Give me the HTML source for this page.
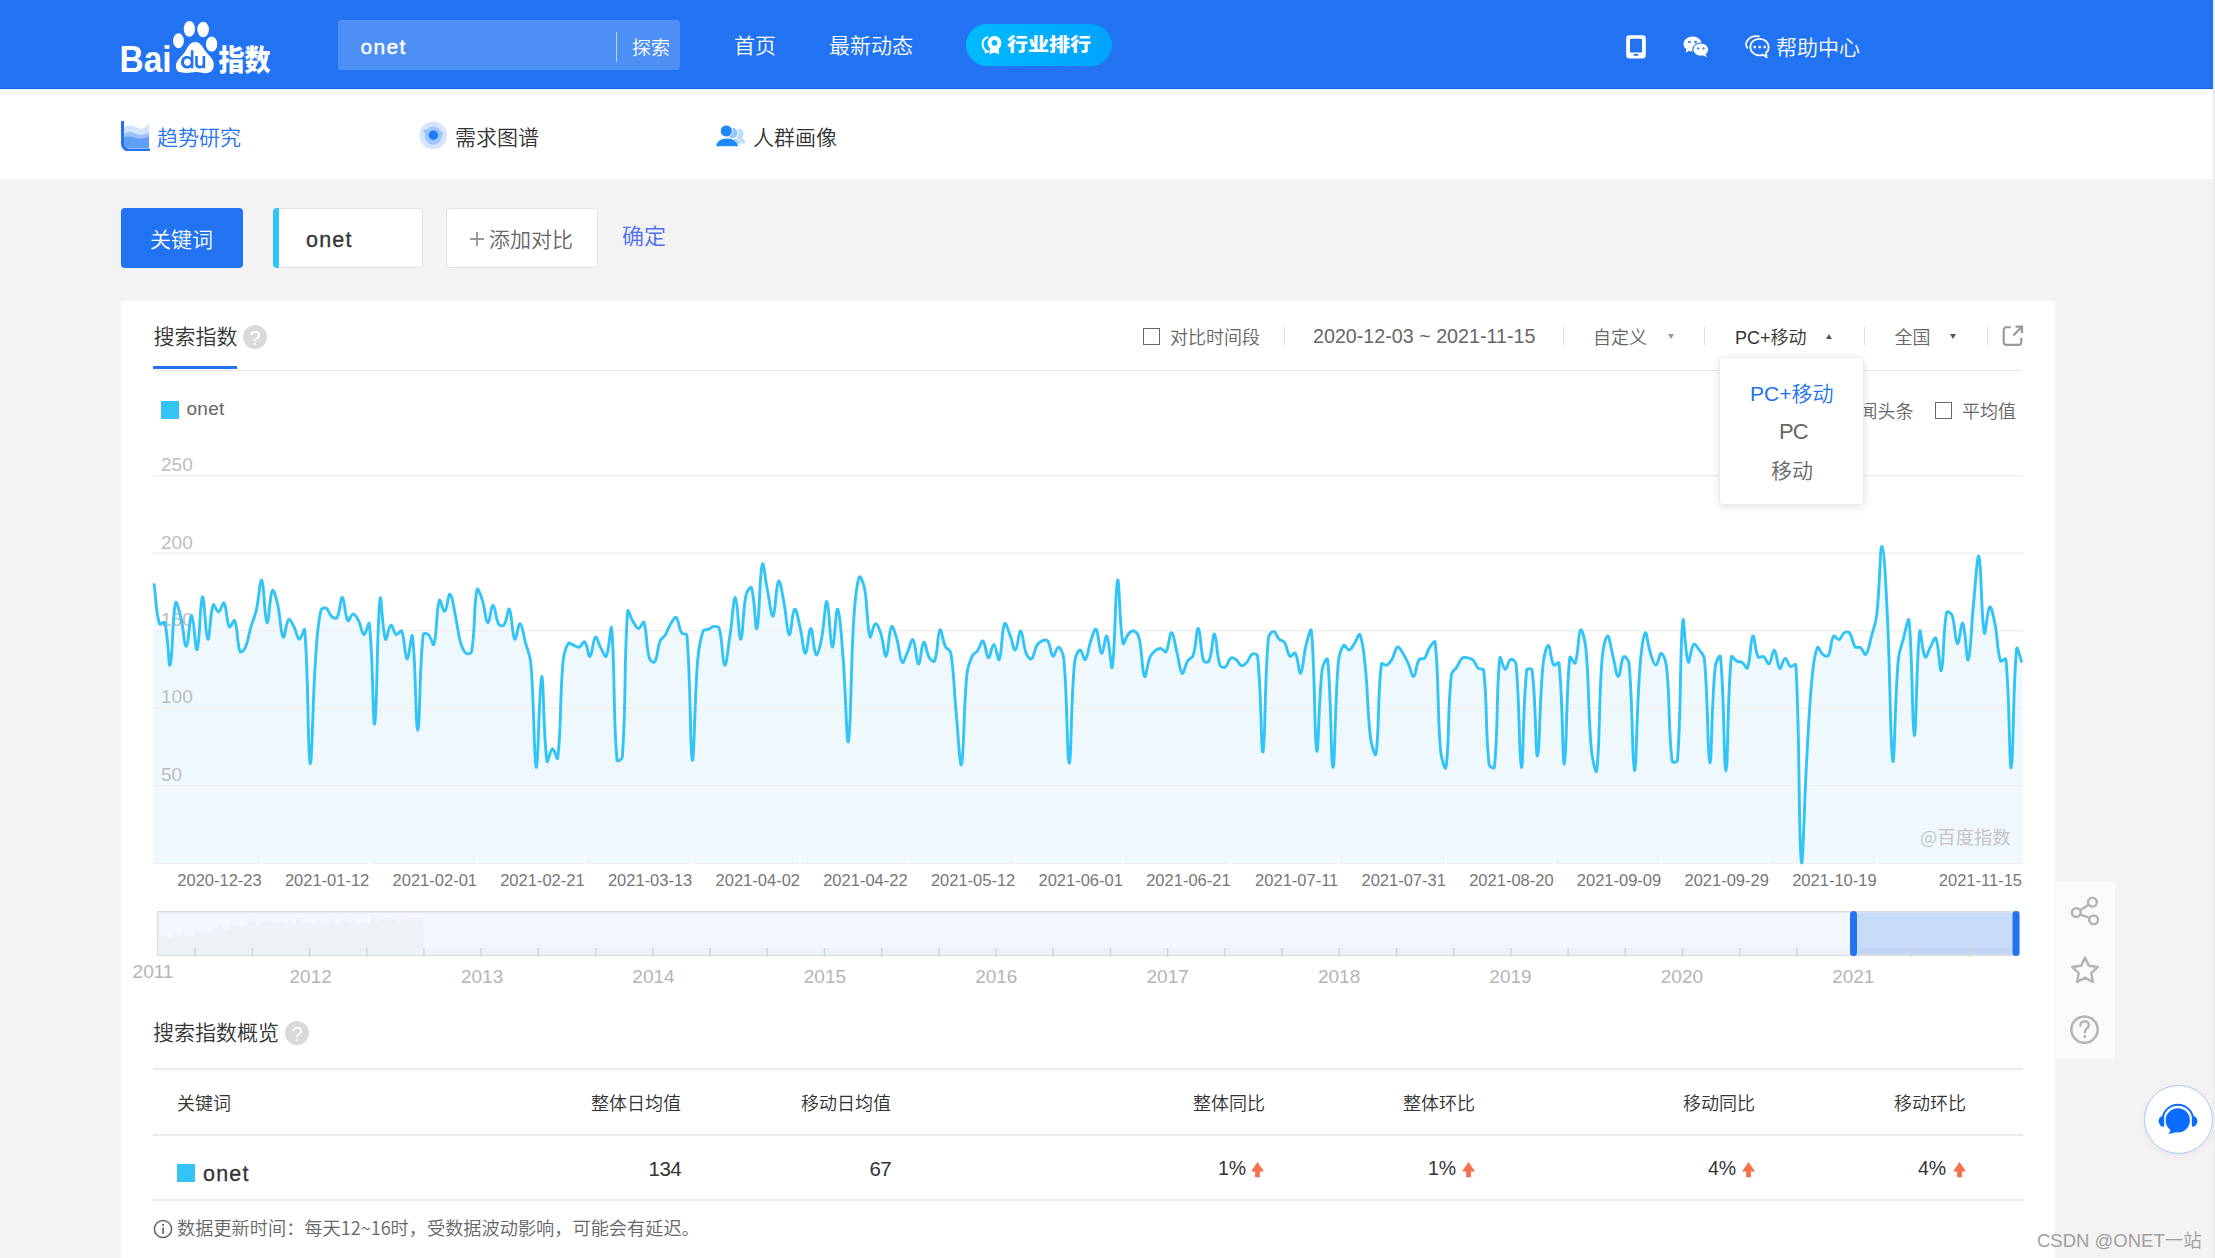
<!DOCTYPE html>
<html lang="zh-CN">
<head>
<meta charset="utf-8">
<title>百度指数 - onet</title>
<style>
*{margin:0;padding:0;box-sizing:border-box}
html,body{width:2215px;height:1258px;overflow:hidden;background:#f3f3f3;font-family:"Liberation Sans","Noto Sans CJK SC",sans-serif;color:#333}
.abs{position:absolute}
.cn{font-family:"Noto Sans CJK SC","Liberation Sans",sans-serif}
#edge{position:absolute;left:2213px;top:0;width:2px;height:1258px;background:#ececec}
#hdr{position:absolute;left:0;top:0;width:2213px;height:89px;background:#2173f2}
#sub{position:absolute;left:0;top:89px;width:2213px;height:90px;background:#fff}
.t{position:absolute;white-space:nowrap;line-height:1;font-weight:350}
</style>
</head>
<body>
<div id="hdr">
  <!-- logo -->
  <svg class="abs" style="left:0;top:0" width="300" height="89" viewBox="0 0 300 89">
    <g fill="#fff">
      <text x="119.5" y="72.2" font-family="Liberation Sans" font-weight="700" font-size="37" textLength="52" lengthAdjust="spacingAndGlyphs">Bai</text>
      <ellipse cx="178.5" cy="40.7" rx="5.4" ry="7.5"/>
      <ellipse cx="189.4" cy="28.9" rx="5.6" ry="7.9"/>
      <ellipse cx="203.1" cy="29.5" rx="5.8" ry="7.8"/>
      <ellipse cx="211.6" cy="44.1" rx="5.7" ry="7.5"/>
      <path d="M178 71.5c-3.2-3.4-2.4-8.6 0.6-12.2c2.6-3.2 5.6-5.4 8-10.2c1.8-3.6 4.4-7 8.6-7c4.4 0 6.6 3.6 8.8 7.2c2.6 4.2 6.4 6.6 8.6 10.6c2.2 4 1.4 10.4-3 12.4c-4 1.8-8.6 0.2-12.6-0.2c-4.6-0.4-8.6 1.4-13 0.6c-2.4-0.4-4.2-0.6-6-1.2z"/>
      <text x="218.5" y="70.5" font-family="Noto Sans CJK SC" font-weight="900" font-size="29" textLength="52" lengthAdjust="spacingAndGlyphs">指数</text>
    </g>
    <g fill="#2173f2">
      <path d="M190.8 50.2h2.6v18h-2.6v-1.2c-1 1-2.3 1.5-3.9 1.5c-3.4 0-5.9-2.7-5.9-6.3s2.5-6.3 5.9-6.3c1.6 0 2.9 0.5 3.9 1.5z M187.4 58.6c-1.9 0-3.4 1.6-3.4 3.6s1.5 3.6 3.4 3.6s3.4-1.6 3.4-3.6s-1.5-3.6-3.4-3.6z" fill-rule="evenodd"/>
      <path d="M195.2 56h2.6v7.2c0 1.8 0.9 2.6 2.4 2.6s2.4-0.8 2.4-2.6V56h2.6v12.2h-2.6v-1c-0.7 0.8-1.7 1.2-3 1.2c-2.7 0-4.4-1.6-4.4-4.5z"/>
    </g>
  </svg>
  <!-- search -->
  <div class="abs" style="left:338px;top:20px;width:342px;height:50px;border-radius:3px;background:#4d8ff5"></div>
  <div class="t" style="left:360.5px;top:35.8px;font-size:21px;color:#fff;letter-spacing:1.3px;-webkit-text-stroke:.45px #fff">onet</div>
  <div class="abs" style="left:616px;top:32px;width:1px;height:30px;background:rgba(255,255,255,.6)"></div>
  <div class="t cn" style="left:632px;top:37px;font-size:19px;color:#fff">探索</div>
  <!-- nav -->
  <div class="t cn" style="left:734px;top:34px;font-size:21px;color:#fff">首页</div>
  <div class="t cn" style="left:829px;top:34px;font-size:21px;color:#fff">最新动态</div>
  <div class="abs" style="left:966px;top:24px;width:146px;height:42px;border-radius:21px;background:linear-gradient(90deg,#00bbff,#00a2ff)"></div>
  <svg class="abs" style="left:980px;top:34px" width="24" height="22" viewBox="0 0 24 22">
    <path d="M7.4 3.2C4.4 4.6 2.4 7.6 2.6 10.8C2.8 13.4 4.2 15.4 6 16.6L5.6 18.2L8.6 17.4" fill="none" stroke="#fff" stroke-width="2" stroke-linecap="round" stroke-linejoin="round"/>
    <path d="M10 13.5L9.6 20.2L14.4 18.4L19.2 20.2L18.8 13.5Z" fill="#fff"/>
    <circle cx="14.5" cy="9" r="6.9" fill="#fff"/>
    <circle cx="14.5" cy="8.8" r="2.9" fill="#03b4ff"/>
  </svg>
  <div class="t cn" style="left:1007px;top:33px;font-size:21px;color:#fff;font-weight:900;transform:scaleY(.86);transform-origin:0 50%">行业排行</div>
  <!-- right icons -->
  <svg class="abs" style="left:1625px;top:34px" width="22" height="26" viewBox="0 0 22 26">
    <rect x="1.2" y="1.2" width="19.6" height="23.2" rx="3.2" fill="#fff"/>
    <rect x="5" y="4.8" width="12" height="13.8" rx="1.2" fill="#2173f2"/>
    <rect x="8.6" y="20" width="4.8" height="1.8" rx="0.6" fill="#2173f2"/>
  </svg>
  <svg class="abs" style="left:1683px;top:36px" width="27" height="22" viewBox="0 0 27 22">
    <ellipse cx="9.6" cy="8" rx="9.2" ry="7.6" fill="#fff"/>
    <path d="M3.6 13.2l-1 3.6l4-2.2z" fill="#fff"/>
    <ellipse cx="17.8" cy="13.6" rx="8.6" ry="7" fill="#2173f2"/>
    <ellipse cx="17.8" cy="13.6" rx="7.4" ry="6.2" fill="#fff"/>
    <path d="M22.6 18.2l1.6 3l-4.2-1.8z" fill="#fff"/>
    <circle cx="6.4" cy="6" r="1.3" fill="#2173f2"/><circle cx="12.6" cy="6" r="1.3" fill="#2173f2"/>
    <circle cx="15.2" cy="12.4" r="1.1" fill="#2173f2"/><circle cx="20.6" cy="12.4" r="1.1" fill="#2173f2"/>
  </svg>
  <svg class="abs" style="left:1740px;top:28px" width="36" height="36" viewBox="0 0 36 36">
    <path d="M18.9 8.4C14 7.6 9.6 9.4 7.4 12.6C5.6 15.2 5.8 18 7.4 19.8" fill="none" stroke="#fff" stroke-width="1.8" stroke-linecap="round"/>
    <path d="M23 26.6C21.8 27.2 20.6 27.4 19.5 27.4C14.2 27.4 10.3 23.6 10.3 18.9S14.2 10.8 19.5 10.8S28.7 14.6 28.7 18.9C28.7 21.6 27.6 23.4 26 25L26.6 29.4Z" fill="none" stroke="#fff" stroke-width="1.8" stroke-linejoin="round"/>
    <circle cx="14.7" cy="19.1" r="1.35" fill="#fff"/><circle cx="19.7" cy="19.1" r="1.35" fill="#fff"/><circle cx="24.7" cy="19.1" r="1.35" fill="#fff"/>
  </svg>
  <div class="t cn" style="left:1776px;top:36px;font-size:21px;color:#fff">帮助中心</div>
</div>

<div class="abs" style="left:0;top:88px;width:2213px;height:1px;background:#1666ea"></div><div class="abs" style="left:0;top:89px;width:2213px;height:1px;background:#f0f5fe;z-index:2"></div>
<div id="sub">
  <svg class="abs" style="left:121px;top:32px" width="30" height="30" viewBox="0 0 30 30">
    <path d="M3 6c3-2 8-2 13 0.6s9 1 12-5V27H3z" fill="#d1e2fb"/>
    <path d="M3 13c3-2.6 7-2.6 11-0.6s9 1.6 14-1V27H3z" fill="#9cc2f8"/>
    <path d="M3 17c3-2 7-1.8 10.4-0.4s8.4 1.6 14.6-1.2V27H3z" fill="#5e9ef5"/>
    <path d="M1.5 0v22.5c0 3.5 2.5 6.5 6.5 6.5h21" fill="none" stroke="#2173f2" stroke-width="3"/>
  </svg>
  <div class="t cn" style="left:157px;top:36.5px;font-size:21px;color:#2173f2">趋势研究</div>
  <svg class="abs" style="left:419px;top:32px" width="28" height="28" viewBox="0 0 28 28">
    <circle cx="14.3" cy="14.3" r="13.9" fill="#d4e5fd"/>
    <ellipse cx="14.3" cy="14.6" rx="8.7" ry="9.1" fill="#9fc5fa"/>
    <path d="M3.6 9.8L8.6 8.2L7.4 12.6Z" fill="#8cbcf8"/>
    <path d="M21.6 11.2L24.4 11.9L22.4 14.6Z" fill="#8cbcf8"/>
    <circle cx="14.4" cy="14.3" r="4.7" fill="#1f7af4"/>
  </svg>
  <div class="t cn" style="left:455px;top:36.5px;font-size:21px;color:#333">需求图谱</div>
  <svg class="abs" style="left:712px;top:31px" width="38" height="30" viewBox="0 0 38 30">
    <circle cx="26.7" cy="13.8" r="5" fill="#bddcfd"/>
    <path d="M21.5 23.3C22 19.5 24.5 17.6 27.4 17.6C30.5 17.6 32.8 19.8 33.4 22.4C33.5 23 33 23.3 32.4 23.3Z" fill="#bddcfd"/>
    <path d="M14 25C15 20 17.5 17.5 21.5 17.5C25 17.5 27.6 20.5 28.2 23.6C28.3 24.4 27.8 25 27 25Z" fill="#93c5fa" stroke="#fff" stroke-width="1.1"/>
    <circle cx="20.3" cy="13" r="5.8" fill="#93c5fa" stroke="#fff" stroke-width="1.1"/>
    <circle cx="14.3" cy="11" r="6.1" fill="#1f88f6" stroke="#fff" stroke-width="1"/>
    <path d="M4 25.3C5 21 9 18 15 18C21 18 25 21 26.3 25.3C26.6 26.4 26 26.8 25 26.8H5.3C4.3 26.8 3.7 26.3 4 25.3Z" fill="#1f88f6" stroke="#fff" stroke-width="1"/>
  </svg>
  <div class="t cn" style="left:753px;top:36.5px;font-size:21px;color:#333">人群画像</div>
</div>

<!-- keyword row -->
<div class="abs" style="left:121px;top:208px;width:122px;height:60px;border-radius:4px;background:#2173f2"></div>
<div class="t cn" style="left:150px;top:228px;font-size:21px;color:#fff">关键词</div>
<div class="abs" style="left:273px;top:208px;width:149.5px;height:60px;border-radius:4px;background:#fff;border:1px solid #e3e3e3;border-left:0"></div>
<div class="abs" style="left:273px;top:208px;width:6px;height:60px;border-radius:4px 0 0 4px;background:#33c4f7"></div>
<div class="t" style="left:306px;top:229.5px;font-size:21.5px;color:#333;letter-spacing:1.2px;-webkit-text-stroke:.3px #333">onet</div>
<div class="abs" style="left:446px;top:208px;width:152px;height:60px;border-radius:4px;background:#fff;border:1px solid #e3e3e3"></div>
<div class="abs" style="left:470px;top:238px;width:14px;height:2px;background:#9a9a9a"></div><div class="abs" style="left:476px;top:232px;width:2px;height:14px;background:#9a9a9a"></div><div class="t cn" style="left:489px;top:228px;font-size:21px;color:#666">添加对比</div>
<div class="t cn" style="left:622px;top:223px;font-size:22px;color:#4e6ef2">确定</div>

<!-- main card -->
<div class="abs" style="left:121px;top:301px;width:1934px;height:960px;background:#fff"></div>
<div class="t cn" style="left:153.5px;top:325px;font-size:21px;color:#333">搜索指数</div>
<div class="abs" style="left:243px;top:325px;width:24px;height:24px;border-radius:50%;background:#d9d9d9;color:#fff;font:normal 20px/26px 'Liberation Sans',sans-serif;text-align:center">?</div>
<div class="abs" style="left:153px;top:370px;width:1869px;height:1px;background:#e8e8e8"></div>
<div class="abs" style="left:153px;top:366px;width:84px;height:3px;background:#2173f2"></div>

<!-- toolbar -->
<div class="abs" style="left:1143px;top:328px;width:17px;height:17px;border:1px solid #666;background:#fff"></div>
<div class="t cn" style="left:1170px;top:327px;font-size:18px;color:#666">对比时间段</div>
<div class="abs" style="left:1283.5px;top:327px;width:1px;height:18px;background:#ddd"></div>
<div class="t" style="left:1313px;top:327px;font-size:19.7px;color:#666">2020-12-03 ~ 2021-11-15</div>
<div class="abs" style="left:1563px;top:327px;width:1px;height:18px;background:#ddd"></div>
<div class="t cn" style="left:1593px;top:327px;font-size:18px;color:#666">自定义</div>
<div class="abs" style="left:1667.5px;top:333.8px;width:0;height:0;border-left:3.5px solid transparent;border-right:3.5px solid transparent;border-top:5.6px solid #9a9a9a"></div>
<div class="abs" style="left:1704px;top:327px;width:1px;height:18px;background:#ddd"></div>
<div class="t" style="left:1735px;top:328.5px;font-size:18px;color:#333">PC+移动</div>
<div class="abs" style="left:1826.1px;top:333.59999999999997px;width:0;height:0;border-left:3.5px solid transparent;border-right:3.5px solid transparent;border-bottom:5.6px solid #555"></div>
<div class="abs" style="left:1863.5px;top:327px;width:1px;height:18px;background:#ddd"></div>
<div class="t cn" style="left:1894.5px;top:327px;font-size:18px;color:#666">全国</div>
<div class="abs" style="left:1950.0px;top:333.59999999999997px;width:0;height:0;border-left:3.5px solid transparent;border-right:3.5px solid transparent;border-top:5.6px solid #555"></div>
<div class="abs" style="left:1987px;top:327px;width:1px;height:18px;background:#ddd"></div>
<svg class="abs" style="left:2000px;top:323px" width="26" height="26" viewBox="-0.5 -0.5 27.5 27.5">
  <path d="M11 4H6.5C4.5 4 3.4 5.1 3.4 7.1v12.4c0 2 1.1 3.1 3.1 3.1h12.4c2 0 3.1-1.1 3.1-3.1V15" fill="none" stroke="#999" stroke-width="2.3"/>
  <path d="M13.6 12.6L22.4 3.8M16 3.4h6.8v6.8" fill="none" stroke="#999" stroke-width="2.3"/>
</svg>

<!-- legend row -->
<div class="abs" style="left:161px;top:401px;width:18px;height:18px;background:#33c4f7"></div>
<div class="t" style="left:186.5px;top:398.6px;font-size:19px;color:#666;letter-spacing:.3px">onet</div>
<div class="abs" style="left:1815px;top:402px;width:17px;height:17px;border:1px solid #666;background:#fff"></div>
<div class="t cn" style="left:1841.5px;top:401px;font-size:18px;color:#666">新闻头条</div>
<div class="abs" style="left:1935px;top:402px;width:17px;height:17px;border:1px solid #666;background:#fff"></div>
<div class="t cn" style="left:1962px;top:401px;font-size:18px;color:#666">平均值</div>

<!-- chart -->
<svg class="abs" style="left:0;top:0" width="2215" height="1000" viewBox="0 0 2215 1000">
  <path d="M154.0 583.4C156.2 599.5 155.6 609.9 159.4 623.7C159.9 625.6 164.3 620.8 164.8 622.7C168.6 637.3 168.4 668.2 170.1 665.1C172.7 660.4 172.1 618.3 175.5 603.0C176.4 599.3 179.4 611.5 180.9 617.5C183.7 628.9 184.2 646.8 186.3 646.4C188.5 646.0 189.6 614.9 191.7 615.4C193.9 616.1 195.4 652.5 197.1 649.5C199.7 645.0 200.1 599.1 202.4 596.8C204.4 595.0 205.5 637.4 207.8 639.2C209.8 640.7 209.8 613.8 213.2 605.1C214.1 602.9 216.6 612.3 218.6 611.9C220.9 611.5 222.7 601.3 224.0 603.0C227.0 607.2 226.1 621.6 229.4 626.8C230.5 628.6 233.9 618.6 234.7 620.6C238.2 628.5 236.6 643.0 240.1 651.6C240.9 653.6 244.4 649.6 245.5 647.1C248.7 639.6 248.5 634.9 250.9 626.8C252.9 620.1 254.7 617.0 256.3 610.3C259.0 598.4 259.9 578.2 261.7 580.3C264.2 583.2 264.6 620.3 267.0 622.7C268.9 624.5 269.5 595.4 272.4 590.6C273.8 588.4 276.4 599.1 277.8 605.1C280.7 617.7 280.4 633.5 283.2 637.1C284.8 639.2 285.7 622.4 288.6 619.6C290.0 618.2 292.2 623.7 294.0 626.8C296.5 631.5 296.9 638.5 299.3 639.2C301.3 639.8 304.4 626.2 304.7 629.9C308.7 675.8 307.7 756.5 310.1 763.2C312.0 768.5 312.6 701.2 315.5 659.9C316.9 640.0 317.0 628.8 320.9 610.3C321.3 608.1 324.7 607.3 326.3 608.2C329.0 609.8 328.9 614.1 331.6 616.5C333.2 617.8 336.1 619.1 337.0 617.5C340.4 611.5 340.4 596.9 342.4 597.5C344.7 598.1 344.6 615.7 347.8 620.6C348.9 622.4 351.0 614.0 353.2 614.0C355.3 614.0 357.0 617.6 358.6 620.6C361.3 625.9 361.6 634.0 363.9 634.7C365.9 635.2 368.9 619.8 369.3 623.7C373.2 655.6 372.8 728.4 374.7 724.0C377.1 718.5 376.8 624.5 380.1 598.9C381.2 590.6 382.3 631.6 385.5 639.2C386.6 642.1 388.4 626.2 390.9 625.2C392.7 624.4 393.6 633.2 396.2 634.7C397.9 635.5 400.8 629.1 401.6 630.9C405.1 638.8 404.7 657.7 407.0 658.9C409.0 659.8 411.5 630.4 412.4 636.1C415.8 659.0 415.6 730.4 417.8 730.2C420.0 729.9 419.1 670.8 423.2 634.7C423.4 632.6 427.1 633.4 428.5 634.7C431.4 637.3 433.1 647.1 433.9 644.4C437.4 633.4 435.9 610.7 439.3 600.4C440.2 597.5 443.0 612.3 444.7 611.3C447.3 609.8 448.2 593.3 450.1 594.2C452.5 595.2 453.5 607.3 455.5 616.1C457.8 626.9 457.8 632.8 460.8 643.3C462.1 647.6 463.4 651.1 466.2 653.3C467.7 654.4 471.3 653.7 471.6 651.6C475.6 628.3 473.4 606.8 477.0 589.6C477.7 586.3 480.9 595.8 482.4 600.4C485.2 609.0 485.4 621.6 487.8 622.7C489.7 623.5 491.1 604.9 493.1 605.1C495.4 605.3 495.2 617.5 498.5 623.7C499.5 625.5 502.8 626.6 503.9 625.2C507.1 620.8 507.8 607.2 509.3 609.2C512.1 612.9 511.9 635.5 514.7 639.2C516.2 641.2 518.1 623.1 520.1 623.7C522.4 624.4 523.4 634.8 525.4 642.3C527.7 650.6 530.1 654.5 530.8 663.0C534.4 704.5 533.9 764.5 536.2 767.4C538.2 769.9 539.4 677.7 541.6 676.4C543.7 675.2 543.3 736.2 547.0 761.2C547.6 765.1 550.0 749.5 552.4 748.8C554.3 748.2 557.3 761.6 557.7 758.1C561.6 726.4 559.5 699.5 563.1 660.9C563.8 653.6 565.2 648.1 568.5 643.3C569.5 641.9 571.7 644.7 573.9 645.4C576.0 646.2 577.4 647.7 579.3 647.1C581.7 646.3 583.3 640.7 584.7 641.9C587.6 644.4 588.2 657.2 590.0 656.4C592.5 655.3 592.7 639.3 595.4 637.1C597.0 635.9 598.4 643.7 600.8 647.9C602.8 651.3 605.1 658.2 606.2 656.2C609.4 650.4 610.8 621.1 611.6 628.5C615.1 662.7 612.8 711.0 617.0 760.1C617.2 762.4 622.2 759.5 622.3 757.0C626.5 699.9 623.7 661.5 627.7 611.3C628.0 607.3 630.6 617.7 633.1 621.6C635.0 624.6 636.3 628.3 638.5 628.5C640.6 628.6 643.1 620.1 643.9 622.3C647.4 631.8 645.6 644.5 649.3 657.8C649.9 660.3 653.6 663.5 654.6 662.0C657.9 656.9 657.0 649.1 660.0 641.3C661.3 638.2 663.6 637.6 665.4 634.7C667.9 630.5 668.2 627.8 670.8 623.7C672.5 621.0 674.7 616.3 676.2 617.5C679.0 620.0 678.4 627.8 681.6 633.0C682.7 634.8 686.8 632.8 686.9 635.1C691.1 683.7 689.9 754.6 692.3 760.1C694.2 764.5 694.4 699.8 697.7 659.9C698.7 648.2 699.5 641.2 703.1 630.9C703.8 629.0 706.4 630.2 708.5 629.3C710.7 628.3 711.6 626.6 713.9 626.4C716.0 626.2 718.7 626.4 719.2 628.5C723.0 641.8 722.3 663.6 724.6 665.1C726.6 666.2 728.1 647.1 730.0 635.1C732.4 620.1 733.4 596.7 735.4 597.5C737.7 598.3 738.7 639.9 740.8 639.2C743.0 638.5 742.5 611.5 746.2 594.2C746.8 591.0 750.8 585.7 751.5 588.0C755.1 599.4 755.3 632.1 756.9 628.5C759.6 622.7 759.3 574.7 762.3 564.4C763.6 559.9 765.4 580.8 767.7 591.7C769.7 601.5 771.3 617.8 773.1 616.1C775.6 613.6 775.8 585.0 778.5 581.3C780.1 579.2 782.2 593.4 783.8 601.6C786.5 614.7 786.8 632.9 789.2 634.7C791.1 636.0 792.1 611.1 794.6 609.2C796.4 607.9 798.3 619.7 800.0 626.8C802.6 637.3 803.2 652.9 805.4 653.3C807.5 653.6 808.7 628.2 810.8 628.5C813.0 628.8 813.5 652.2 816.1 654.7C817.8 656.3 820.2 645.4 821.5 638.8C824.5 624.1 825.0 600.1 826.9 601.6C829.3 603.4 829.9 645.4 832.3 647.1C834.3 648.5 835.8 607.4 837.7 609.2C840.1 611.7 841.5 638.3 843.1 657.8C845.8 691.3 846.7 747.9 848.4 741.5C851.0 732.2 850.6 667.6 853.8 618.5C854.9 601.9 855.9 586.4 859.2 577.2C860.2 574.4 863.7 583.7 864.6 588.6C868.0 607.5 866.6 625.8 870.0 636.7C870.9 639.9 872.9 624.6 875.4 623.7C877.2 623.1 879.4 629.0 880.7 633.0C883.7 642.0 884.2 657.3 886.1 656.2C888.5 654.8 888.5 631.5 891.5 626.8C892.9 624.7 895.3 634.1 896.9 639.2C899.6 648.3 899.4 659.1 902.3 662.4C903.7 664.0 905.6 656.0 907.7 651.6C909.9 646.9 911.6 637.9 913.0 639.6C915.9 642.9 916.2 663.5 918.4 664.0C920.5 664.5 921.3 643.9 923.8 642.3C925.6 641.2 926.1 652.1 929.2 657.4C930.4 659.5 933.8 662.8 934.6 660.9C938.2 651.8 937.2 633.6 940.0 629.9C941.5 627.9 942.4 640.3 945.3 646.4C946.7 649.4 950.2 649.5 950.7 652.6C954.5 675.5 953.8 688.0 956.1 711.6C958.1 732.7 959.9 769.8 961.5 764.3C964.2 754.9 963.3 710.1 966.9 674.4C967.6 666.7 969.2 662.6 972.3 655.8C973.5 653.1 975.9 653.0 977.6 650.6C980.2 647.0 981.4 639.8 983.0 640.9C985.7 642.6 986.0 657.0 988.4 657.8C990.3 658.4 991.7 644.1 993.8 644.4C996.1 644.7 997.9 662.0 999.2 659.5C1002.2 653.7 1001.3 631.1 1004.6 623.7C1005.6 621.2 1008.1 630.2 1009.9 634.7C1012.4 640.7 1013.4 650.6 1015.3 650.0C1017.7 649.1 1018.7 630.3 1020.7 630.9C1023.0 631.7 1022.9 644.9 1026.1 653.3C1027.2 656.1 1030.0 659.9 1031.5 658.9C1034.3 656.8 1034.0 650.3 1036.9 645.4C1038.3 643.1 1039.8 641.9 1042.2 640.9C1044.1 640.1 1046.6 639.3 1047.6 640.9C1050.9 645.5 1050.4 654.7 1053.0 656.2C1054.7 657.1 1056.5 646.6 1058.4 647.1C1060.8 647.7 1063.3 653.7 1063.8 658.9C1067.6 700.2 1067.0 762.4 1069.2 763.2C1071.3 764.0 1070.8 702.7 1074.5 663.0C1075.1 657.4 1077.5 650.8 1079.9 650.0C1081.8 649.3 1083.8 660.8 1085.3 659.5C1088.1 657.1 1088.1 648.1 1090.7 640.9C1092.4 636.1 1094.6 627.6 1096.1 629.3C1098.9 632.6 1099.0 651.7 1101.5 653.3C1103.3 654.4 1105.3 634.1 1106.8 636.1C1109.6 639.6 1111.1 673.0 1112.2 667.1C1115.4 650.7 1115.1 585.8 1117.6 580.3C1119.4 576.3 1119.3 625.0 1123.0 643.3C1123.6 646.5 1125.6 637.2 1128.4 634.0C1130.0 632.2 1132.0 630.3 1133.8 630.9C1136.3 631.9 1138.3 634.7 1139.1 638.2C1142.6 652.9 1141.7 671.3 1144.5 676.4C1146.0 679.0 1146.9 664.6 1149.9 657.4C1151.2 654.2 1152.7 652.7 1155.3 650.6C1157.0 649.2 1158.6 648.3 1160.7 648.5C1162.9 648.7 1165.0 653.1 1166.1 651.6C1169.3 646.8 1169.3 632.6 1171.4 632.6C1173.6 632.6 1174.8 644.0 1176.8 651.6C1179.1 660.3 1179.5 671.0 1182.2 673.3C1183.8 674.7 1184.8 665.4 1187.6 660.9C1189.1 658.4 1192.1 658.5 1193.0 655.8C1196.4 645.5 1196.4 627.5 1198.4 628.5C1200.7 629.6 1200.0 649.8 1203.7 660.9C1204.3 662.7 1208.4 662.7 1209.1 660.9C1212.7 651.9 1212.5 633.3 1214.5 634.0C1216.8 634.9 1216.3 653.9 1219.9 665.1C1220.6 667.1 1223.7 668.1 1225.3 667.1C1228.0 665.4 1227.8 660.2 1230.7 658.2C1232.2 657.2 1234.3 658.3 1236.0 659.5C1238.6 661.3 1239.0 665.0 1241.4 665.7C1243.3 666.2 1245.1 664.2 1246.8 662.4C1249.4 659.5 1249.5 655.7 1252.2 654.1C1253.8 653.2 1257.3 653.9 1257.6 656.2C1261.6 693.1 1261.0 755.0 1263.0 751.9C1265.3 748.1 1264.4 683.4 1268.3 638.8C1268.7 635.2 1271.6 631.3 1273.7 631.4C1275.9 631.4 1276.5 636.6 1279.1 639.2C1280.8 640.9 1283.2 640.3 1284.5 642.3C1287.5 647.1 1286.8 653.1 1289.9 656.2C1291.1 657.4 1294.3 651.7 1295.3 653.3C1298.6 658.6 1298.8 674.6 1300.6 673.3C1303.1 671.5 1303.2 656.4 1306.0 645.4C1307.5 639.4 1310.9 626.1 1311.4 630.9C1315.2 668.3 1314.2 741.7 1316.8 750.8C1318.5 757.0 1318.4 701.4 1322.2 669.2C1322.7 664.8 1327.2 655.8 1327.6 659.5C1331.5 695.1 1330.8 766.7 1332.9 767.4C1335.1 768.1 1334.7 704.5 1338.3 663.0C1339.0 655.7 1340.6 649.2 1343.7 645.4C1344.9 644.0 1347.1 650.3 1349.1 650.0C1351.4 649.5 1352.5 646.1 1354.5 643.3C1356.8 640.0 1358.8 632.5 1359.9 634.7C1363.1 641.6 1363.9 653.4 1365.2 666.1C1368.2 694.9 1367.1 709.8 1370.6 738.4C1371.4 744.9 1375.3 758.5 1376.0 753.9C1379.6 728.8 1377.3 697.5 1381.4 664.0C1381.6 662.0 1385.0 665.9 1386.8 665.1C1389.4 663.8 1390.5 661.6 1392.2 658.9C1394.8 654.4 1394.9 648.4 1397.5 647.1C1399.2 646.2 1401.1 650.5 1402.9 653.3C1405.4 657.2 1406.3 659.4 1408.3 663.6C1410.6 668.6 1411.8 677.1 1413.7 676.4C1416.1 675.5 1415.8 665.0 1419.1 659.5C1420.1 657.7 1423.1 659.8 1424.5 658.2C1427.4 654.8 1427.1 651.1 1429.8 647.1C1431.4 644.7 1435.0 639.7 1435.2 642.3C1439.3 681.2 1436.9 707.7 1440.6 750.8C1441.2 757.7 1445.3 772.2 1446.0 767.4C1449.6 741.6 1447.4 710.9 1451.4 674.4C1451.8 670.8 1454.8 670.1 1456.8 667.1C1459.1 663.7 1459.3 660.7 1462.1 658.2C1463.6 657.0 1465.4 657.5 1467.5 657.8C1469.7 658.2 1471.3 658.4 1472.9 659.9C1475.6 662.5 1475.6 665.5 1478.3 668.2C1479.9 669.7 1483.4 668.0 1483.7 670.2C1487.7 706.4 1485.0 727.8 1489.1 764.3C1489.3 766.7 1494.2 769.6 1494.4 767.4C1498.5 727.1 1496.0 693.0 1499.8 657.8C1500.3 653.8 1502.9 668.8 1505.2 669.2C1507.2 669.5 1508.0 660.7 1510.6 659.5C1512.3 658.7 1515.7 661.3 1516.0 664.0C1520.0 704.4 1519.1 766.1 1521.4 767.4C1523.4 768.6 1522.7 707.0 1526.7 670.2C1527.0 668.2 1531.9 668.2 1532.1 670.2C1536.2 702.5 1535.4 756.8 1537.5 756.0C1539.7 755.2 1539.4 701.8 1542.9 666.1C1543.7 657.6 1546.1 645.6 1548.3 645.4C1550.4 645.2 1550.3 659.6 1553.7 665.1C1554.6 666.6 1558.8 660.8 1559.0 663.0C1563.1 700.5 1562.3 765.4 1564.4 764.3C1566.6 763.1 1565.8 695.2 1569.8 657.4C1570.1 654.7 1574.4 665.1 1575.2 663.0C1578.7 654.1 1577.9 633.3 1580.6 629.9C1582.2 627.9 1585.2 641.5 1586.0 649.5C1589.5 689.0 1587.8 709.3 1591.3 748.8C1592.1 757.6 1596.0 776.5 1596.7 770.5C1600.3 740.5 1598.5 703.3 1602.1 658.9C1602.8 649.6 1605.2 636.8 1607.5 636.1C1609.5 635.5 1610.8 647.9 1612.9 655.8C1615.1 664.0 1616.0 676.2 1618.3 676.4C1620.4 676.6 1620.6 660.4 1623.6 656.8C1624.9 655.3 1628.7 660.2 1629.0 663.6C1633.0 705.7 1632.2 769.3 1634.4 770.5C1636.5 771.6 1636.6 709.6 1639.8 669.2C1640.9 654.6 1642.5 636.9 1645.2 633.0C1646.8 630.7 1647.8 645.6 1650.6 653.7C1652.1 658.4 1653.8 665.1 1655.9 665.1C1658.1 665.0 1659.4 652.7 1661.3 653.3C1663.7 654.0 1666.1 661.9 1666.7 668.2C1670.4 705.0 1668.0 726.4 1672.1 761.2C1672.3 763.2 1677.3 762.3 1677.5 760.1C1681.6 706.0 1679.5 650.9 1682.9 620.6C1683.8 611.6 1685.2 655.4 1688.2 662.0C1689.6 664.9 1690.6 647.9 1693.6 644.4C1694.9 642.9 1697.2 647.2 1699.0 649.5C1701.5 653.0 1704.0 654.6 1704.4 658.9C1708.3 699.9 1707.5 761.1 1709.8 762.8C1711.8 764.4 1711.3 704.9 1715.2 667.1C1715.6 662.5 1720.1 652.9 1720.5 656.8C1724.4 694.5 1723.8 771.1 1725.9 771.1C1728.1 771.1 1727.2 698.3 1731.3 656.8C1731.5 654.3 1734.3 659.9 1736.7 661.1C1738.6 662.1 1740.3 661.3 1742.1 662.4C1744.6 664.0 1746.6 669.8 1747.5 667.8C1750.9 659.3 1750.3 638.6 1752.8 636.0C1754.6 634.3 1754.8 650.4 1758.2 657.0C1759.1 658.6 1762.0 655.5 1763.6 656.5C1766.3 658.2 1767.3 664.8 1769.0 663.8C1771.6 662.3 1772.5 649.5 1774.4 650.3C1776.8 651.3 1777.1 666.4 1779.8 668.4C1781.4 669.6 1782.8 658.8 1785.1 658.4C1787.1 658.0 1787.8 664.8 1790.5 666.5C1792.1 667.5 1795.8 662.8 1795.9 665.0C1800.1 740.8 1798.4 836.6 1801.3 861.5C1802.8 874.4 1804.3 800.4 1806.7 759.7C1808.6 726.7 1808.9 710.1 1812.1 677.3C1813.2 665.3 1814.1 654.8 1817.4 647.6C1818.4 645.6 1820.2 652.3 1822.8 654.3C1824.5 655.6 1827.3 657.3 1828.2 655.7C1831.6 650.0 1830.3 641.1 1833.6 636.2C1834.6 634.7 1837.2 640.1 1839.0 639.5C1841.5 638.7 1841.7 634.3 1844.4 632.7C1846.0 631.7 1848.6 631.7 1849.7 633.2C1852.9 637.3 1852.0 642.6 1855.1 646.8C1856.3 648.4 1858.8 646.4 1860.5 647.6C1863.1 649.4 1864.5 655.7 1865.9 654.3C1868.8 651.4 1869.3 643.9 1871.3 636.8C1873.6 628.2 1875.6 624.0 1876.7 615.1C1879.9 587.7 1879.9 545.9 1882.0 546.2C1884.2 546.5 1886.0 588.3 1887.4 616.5C1890.3 674.3 1890.3 750.5 1892.8 761.0C1894.6 768.3 1894.7 700.8 1898.2 661.0C1899.0 651.6 1901.1 647.1 1903.6 638.0C1905.4 630.9 1908.4 615.2 1909.0 620.5C1912.7 654.1 1912.1 733.1 1914.3 735.4C1916.4 737.5 1916.3 656.5 1919.7 631.4C1920.6 625.1 1922.1 652.7 1925.1 657.0C1926.4 658.9 1928.2 650.8 1930.5 646.8C1932.5 643.2 1934.8 635.8 1935.9 638.1C1939.2 645.3 1939.7 674.2 1941.3 670.5C1944.0 663.9 1942.7 632.5 1946.6 612.4C1947.0 610.3 1951.3 613.0 1952.0 615.1C1955.6 625.4 1954.9 641.6 1957.4 643.5C1959.2 644.9 1961.2 620.8 1962.8 623.2C1965.5 627.3 1966.5 662.9 1968.2 659.7C1970.8 654.8 1971.2 625.7 1973.6 603.0C1975.5 584.4 1977.3 552.0 1978.9 556.5C1981.6 563.9 1981.1 617.7 1984.3 632.7C1985.4 637.9 1987.2 608.9 1989.7 607.0C1991.5 605.7 1993.6 617.4 1995.1 624.6C1998.0 639.0 1996.7 649.0 2000.5 661.0C2001.0 662.8 2005.6 657.1 2005.9 659.2C2009.9 699.8 2009.2 769.7 2011.2 767.8C2013.5 765.7 2012.8 686.6 2016.6 649.0C2017.1 644.4 2019.8 657.0 2022.0 662.4L2022.0 862.5L154.0 862.5Z" fill="#eff9fd"/><rect x="153" y="862.5" width="1870" height="1.5" fill="#efefef"/><rect x="261.1" y="857" width="1.2" height="7" fill="#fff"/><rect x="368.7" y="857" width="1.2" height="7" fill="#fff"/><rect x="476.4" y="857" width="1.2" height="7" fill="#fff"/><rect x="584.0" y="857" width="1.2" height="7" fill="#fff"/><rect x="691.7" y="857" width="1.2" height="7" fill="#fff"/><rect x="799.4" y="857" width="1.2" height="7" fill="#fff"/><rect x="907.0" y="857" width="1.2" height="7" fill="#fff"/><rect x="1014.7" y="857" width="1.2" height="7" fill="#fff"/><rect x="1122.3" y="857" width="1.2" height="7" fill="#fff"/><rect x="1230.0" y="857" width="1.2" height="7" fill="#fff"/><rect x="1337.7" y="857" width="1.2" height="7" fill="#fff"/><rect x="1445.3" y="857" width="1.2" height="7" fill="#fff"/><rect x="1553.0" y="857" width="1.2" height="7" fill="#fff"/><rect x="1660.6" y="857" width="1.2" height="7" fill="#fff"/><rect x="1768.3" y="857" width="1.2" height="7" fill="#fff"/><rect x="1876.0" y="857" width="1.2" height="7" fill="#fff"/>
  <rect x="153" y="475.0" width="1870" height="1.6" fill="#f0f0f0"/><rect x="153" y="552.5" width="1870" height="1.6" fill="#f0f0f0"/><rect x="153" y="630.0" width="1870" height="1.6" fill="#f0f0f0"/><rect x="153" y="707.5" width="1870" height="1.6" fill="#f0f0f0"/><rect x="153" y="784.8" width="1870" height="1.6" fill="#f0f0f0"/>
  <g font-family="Liberation Sans,Noto Sans CJK SC,sans-serif" font-size="19" fill="#bdbdbd"><text x="161" y="471">250</text><text x="161" y="548.5">200</text><text x="161" y="626">150</text><text x="161" y="703.3">100</text><text x="161" y="780.7">50</text></g>
  <path d="M154.0 583.4C156.2 599.5 155.6 609.9 159.4 623.7C159.9 625.6 164.3 620.8 164.8 622.7C168.6 637.3 168.4 668.2 170.1 665.1C172.7 660.4 172.1 618.3 175.5 603.0C176.4 599.3 179.4 611.5 180.9 617.5C183.7 628.9 184.2 646.8 186.3 646.4C188.5 646.0 189.6 614.9 191.7 615.4C193.9 616.1 195.4 652.5 197.1 649.5C199.7 645.0 200.1 599.1 202.4 596.8C204.4 595.0 205.5 637.4 207.8 639.2C209.8 640.7 209.8 613.8 213.2 605.1C214.1 602.9 216.6 612.3 218.6 611.9C220.9 611.5 222.7 601.3 224.0 603.0C227.0 607.2 226.1 621.6 229.4 626.8C230.5 628.6 233.9 618.6 234.7 620.6C238.2 628.5 236.6 643.0 240.1 651.6C240.9 653.6 244.4 649.6 245.5 647.1C248.7 639.6 248.5 634.9 250.9 626.8C252.9 620.1 254.7 617.0 256.3 610.3C259.0 598.4 259.9 578.2 261.7 580.3C264.2 583.2 264.6 620.3 267.0 622.7C268.9 624.5 269.5 595.4 272.4 590.6C273.8 588.4 276.4 599.1 277.8 605.1C280.7 617.7 280.4 633.5 283.2 637.1C284.8 639.2 285.7 622.4 288.6 619.6C290.0 618.2 292.2 623.7 294.0 626.8C296.5 631.5 296.9 638.5 299.3 639.2C301.3 639.8 304.4 626.2 304.7 629.9C308.7 675.8 307.7 756.5 310.1 763.2C312.0 768.5 312.6 701.2 315.5 659.9C316.9 640.0 317.0 628.8 320.9 610.3C321.3 608.1 324.7 607.3 326.3 608.2C329.0 609.8 328.9 614.1 331.6 616.5C333.2 617.8 336.1 619.1 337.0 617.5C340.4 611.5 340.4 596.9 342.4 597.5C344.7 598.1 344.6 615.7 347.8 620.6C348.9 622.4 351.0 614.0 353.2 614.0C355.3 614.0 357.0 617.6 358.6 620.6C361.3 625.9 361.6 634.0 363.9 634.7C365.9 635.2 368.9 619.8 369.3 623.7C373.2 655.6 372.8 728.4 374.7 724.0C377.1 718.5 376.8 624.5 380.1 598.9C381.2 590.6 382.3 631.6 385.5 639.2C386.6 642.1 388.4 626.2 390.9 625.2C392.7 624.4 393.6 633.2 396.2 634.7C397.9 635.5 400.8 629.1 401.6 630.9C405.1 638.8 404.7 657.7 407.0 658.9C409.0 659.8 411.5 630.4 412.4 636.1C415.8 659.0 415.6 730.4 417.8 730.2C420.0 729.9 419.1 670.8 423.2 634.7C423.4 632.6 427.1 633.4 428.5 634.7C431.4 637.3 433.1 647.1 433.9 644.4C437.4 633.4 435.9 610.7 439.3 600.4C440.2 597.5 443.0 612.3 444.7 611.3C447.3 609.8 448.2 593.3 450.1 594.2C452.5 595.2 453.5 607.3 455.5 616.1C457.8 626.9 457.8 632.8 460.8 643.3C462.1 647.6 463.4 651.1 466.2 653.3C467.7 654.4 471.3 653.7 471.6 651.6C475.6 628.3 473.4 606.8 477.0 589.6C477.7 586.3 480.9 595.8 482.4 600.4C485.2 609.0 485.4 621.6 487.8 622.7C489.7 623.5 491.1 604.9 493.1 605.1C495.4 605.3 495.2 617.5 498.5 623.7C499.5 625.5 502.8 626.6 503.9 625.2C507.1 620.8 507.8 607.2 509.3 609.2C512.1 612.9 511.9 635.5 514.7 639.2C516.2 641.2 518.1 623.1 520.1 623.7C522.4 624.4 523.4 634.8 525.4 642.3C527.7 650.6 530.1 654.5 530.8 663.0C534.4 704.5 533.9 764.5 536.2 767.4C538.2 769.9 539.4 677.7 541.6 676.4C543.7 675.2 543.3 736.2 547.0 761.2C547.6 765.1 550.0 749.5 552.4 748.8C554.3 748.2 557.3 761.6 557.7 758.1C561.6 726.4 559.5 699.5 563.1 660.9C563.8 653.6 565.2 648.1 568.5 643.3C569.5 641.9 571.7 644.7 573.9 645.4C576.0 646.2 577.4 647.7 579.3 647.1C581.7 646.3 583.3 640.7 584.7 641.9C587.6 644.4 588.2 657.2 590.0 656.4C592.5 655.3 592.7 639.3 595.4 637.1C597.0 635.9 598.4 643.7 600.8 647.9C602.8 651.3 605.1 658.2 606.2 656.2C609.4 650.4 610.8 621.1 611.6 628.5C615.1 662.7 612.8 711.0 617.0 760.1C617.2 762.4 622.2 759.5 622.3 757.0C626.5 699.9 623.7 661.5 627.7 611.3C628.0 607.3 630.6 617.7 633.1 621.6C635.0 624.6 636.3 628.3 638.5 628.5C640.6 628.6 643.1 620.1 643.9 622.3C647.4 631.8 645.6 644.5 649.3 657.8C649.9 660.3 653.6 663.5 654.6 662.0C657.9 656.9 657.0 649.1 660.0 641.3C661.3 638.2 663.6 637.6 665.4 634.7C667.9 630.5 668.2 627.8 670.8 623.7C672.5 621.0 674.7 616.3 676.2 617.5C679.0 620.0 678.4 627.8 681.6 633.0C682.7 634.8 686.8 632.8 686.9 635.1C691.1 683.7 689.9 754.6 692.3 760.1C694.2 764.5 694.4 699.8 697.7 659.9C698.7 648.2 699.5 641.2 703.1 630.9C703.8 629.0 706.4 630.2 708.5 629.3C710.7 628.3 711.6 626.6 713.9 626.4C716.0 626.2 718.7 626.4 719.2 628.5C723.0 641.8 722.3 663.6 724.6 665.1C726.6 666.2 728.1 647.1 730.0 635.1C732.4 620.1 733.4 596.7 735.4 597.5C737.7 598.3 738.7 639.9 740.8 639.2C743.0 638.5 742.5 611.5 746.2 594.2C746.8 591.0 750.8 585.7 751.5 588.0C755.1 599.4 755.3 632.1 756.9 628.5C759.6 622.7 759.3 574.7 762.3 564.4C763.6 559.9 765.4 580.8 767.7 591.7C769.7 601.5 771.3 617.8 773.1 616.1C775.6 613.6 775.8 585.0 778.5 581.3C780.1 579.2 782.2 593.4 783.8 601.6C786.5 614.7 786.8 632.9 789.2 634.7C791.1 636.0 792.1 611.1 794.6 609.2C796.4 607.9 798.3 619.7 800.0 626.8C802.6 637.3 803.2 652.9 805.4 653.3C807.5 653.6 808.7 628.2 810.8 628.5C813.0 628.8 813.5 652.2 816.1 654.7C817.8 656.3 820.2 645.4 821.5 638.8C824.5 624.1 825.0 600.1 826.9 601.6C829.3 603.4 829.9 645.4 832.3 647.1C834.3 648.5 835.8 607.4 837.7 609.2C840.1 611.7 841.5 638.3 843.1 657.8C845.8 691.3 846.7 747.9 848.4 741.5C851.0 732.2 850.6 667.6 853.8 618.5C854.9 601.9 855.9 586.4 859.2 577.2C860.2 574.4 863.7 583.7 864.6 588.6C868.0 607.5 866.6 625.8 870.0 636.7C870.9 639.9 872.9 624.6 875.4 623.7C877.2 623.1 879.4 629.0 880.7 633.0C883.7 642.0 884.2 657.3 886.1 656.2C888.5 654.8 888.5 631.5 891.5 626.8C892.9 624.7 895.3 634.1 896.9 639.2C899.6 648.3 899.4 659.1 902.3 662.4C903.7 664.0 905.6 656.0 907.7 651.6C909.9 646.9 911.6 637.9 913.0 639.6C915.9 642.9 916.2 663.5 918.4 664.0C920.5 664.5 921.3 643.9 923.8 642.3C925.6 641.2 926.1 652.1 929.2 657.4C930.4 659.5 933.8 662.8 934.6 660.9C938.2 651.8 937.2 633.6 940.0 629.9C941.5 627.9 942.4 640.3 945.3 646.4C946.7 649.4 950.2 649.5 950.7 652.6C954.5 675.5 953.8 688.0 956.1 711.6C958.1 732.7 959.9 769.8 961.5 764.3C964.2 754.9 963.3 710.1 966.9 674.4C967.6 666.7 969.2 662.6 972.3 655.8C973.5 653.1 975.9 653.0 977.6 650.6C980.2 647.0 981.4 639.8 983.0 640.9C985.7 642.6 986.0 657.0 988.4 657.8C990.3 658.4 991.7 644.1 993.8 644.4C996.1 644.7 997.9 662.0 999.2 659.5C1002.2 653.7 1001.3 631.1 1004.6 623.7C1005.6 621.2 1008.1 630.2 1009.9 634.7C1012.4 640.7 1013.4 650.6 1015.3 650.0C1017.7 649.1 1018.7 630.3 1020.7 630.9C1023.0 631.7 1022.9 644.9 1026.1 653.3C1027.2 656.1 1030.0 659.9 1031.5 658.9C1034.3 656.8 1034.0 650.3 1036.9 645.4C1038.3 643.1 1039.8 641.9 1042.2 640.9C1044.1 640.1 1046.6 639.3 1047.6 640.9C1050.9 645.5 1050.4 654.7 1053.0 656.2C1054.7 657.1 1056.5 646.6 1058.4 647.1C1060.8 647.7 1063.3 653.7 1063.8 658.9C1067.6 700.2 1067.0 762.4 1069.2 763.2C1071.3 764.0 1070.8 702.7 1074.5 663.0C1075.1 657.4 1077.5 650.8 1079.9 650.0C1081.8 649.3 1083.8 660.8 1085.3 659.5C1088.1 657.1 1088.1 648.1 1090.7 640.9C1092.4 636.1 1094.6 627.6 1096.1 629.3C1098.9 632.6 1099.0 651.7 1101.5 653.3C1103.3 654.4 1105.3 634.1 1106.8 636.1C1109.6 639.6 1111.1 673.0 1112.2 667.1C1115.4 650.7 1115.1 585.8 1117.6 580.3C1119.4 576.3 1119.3 625.0 1123.0 643.3C1123.6 646.5 1125.6 637.2 1128.4 634.0C1130.0 632.2 1132.0 630.3 1133.8 630.9C1136.3 631.9 1138.3 634.7 1139.1 638.2C1142.6 652.9 1141.7 671.3 1144.5 676.4C1146.0 679.0 1146.9 664.6 1149.9 657.4C1151.2 654.2 1152.7 652.7 1155.3 650.6C1157.0 649.2 1158.6 648.3 1160.7 648.5C1162.9 648.7 1165.0 653.1 1166.1 651.6C1169.3 646.8 1169.3 632.6 1171.4 632.6C1173.6 632.6 1174.8 644.0 1176.8 651.6C1179.1 660.3 1179.5 671.0 1182.2 673.3C1183.8 674.7 1184.8 665.4 1187.6 660.9C1189.1 658.4 1192.1 658.5 1193.0 655.8C1196.4 645.5 1196.4 627.5 1198.4 628.5C1200.7 629.6 1200.0 649.8 1203.7 660.9C1204.3 662.7 1208.4 662.7 1209.1 660.9C1212.7 651.9 1212.5 633.3 1214.5 634.0C1216.8 634.9 1216.3 653.9 1219.9 665.1C1220.6 667.1 1223.7 668.1 1225.3 667.1C1228.0 665.4 1227.8 660.2 1230.7 658.2C1232.2 657.2 1234.3 658.3 1236.0 659.5C1238.6 661.3 1239.0 665.0 1241.4 665.7C1243.3 666.2 1245.1 664.2 1246.8 662.4C1249.4 659.5 1249.5 655.7 1252.2 654.1C1253.8 653.2 1257.3 653.9 1257.6 656.2C1261.6 693.1 1261.0 755.0 1263.0 751.9C1265.3 748.1 1264.4 683.4 1268.3 638.8C1268.7 635.2 1271.6 631.3 1273.7 631.4C1275.9 631.4 1276.5 636.6 1279.1 639.2C1280.8 640.9 1283.2 640.3 1284.5 642.3C1287.5 647.1 1286.8 653.1 1289.9 656.2C1291.1 657.4 1294.3 651.7 1295.3 653.3C1298.6 658.6 1298.8 674.6 1300.6 673.3C1303.1 671.5 1303.2 656.4 1306.0 645.4C1307.5 639.4 1310.9 626.1 1311.4 630.9C1315.2 668.3 1314.2 741.7 1316.8 750.8C1318.5 757.0 1318.4 701.4 1322.2 669.2C1322.7 664.8 1327.2 655.8 1327.6 659.5C1331.5 695.1 1330.8 766.7 1332.9 767.4C1335.1 768.1 1334.7 704.5 1338.3 663.0C1339.0 655.7 1340.6 649.2 1343.7 645.4C1344.9 644.0 1347.1 650.3 1349.1 650.0C1351.4 649.5 1352.5 646.1 1354.5 643.3C1356.8 640.0 1358.8 632.5 1359.9 634.7C1363.1 641.6 1363.9 653.4 1365.2 666.1C1368.2 694.9 1367.1 709.8 1370.6 738.4C1371.4 744.9 1375.3 758.5 1376.0 753.9C1379.6 728.8 1377.3 697.5 1381.4 664.0C1381.6 662.0 1385.0 665.9 1386.8 665.1C1389.4 663.8 1390.5 661.6 1392.2 658.9C1394.8 654.4 1394.9 648.4 1397.5 647.1C1399.2 646.2 1401.1 650.5 1402.9 653.3C1405.4 657.2 1406.3 659.4 1408.3 663.6C1410.6 668.6 1411.8 677.1 1413.7 676.4C1416.1 675.5 1415.8 665.0 1419.1 659.5C1420.1 657.7 1423.1 659.8 1424.5 658.2C1427.4 654.8 1427.1 651.1 1429.8 647.1C1431.4 644.7 1435.0 639.7 1435.2 642.3C1439.3 681.2 1436.9 707.7 1440.6 750.8C1441.2 757.7 1445.3 772.2 1446.0 767.4C1449.6 741.6 1447.4 710.9 1451.4 674.4C1451.8 670.8 1454.8 670.1 1456.8 667.1C1459.1 663.7 1459.3 660.7 1462.1 658.2C1463.6 657.0 1465.4 657.5 1467.5 657.8C1469.7 658.2 1471.3 658.4 1472.9 659.9C1475.6 662.5 1475.6 665.5 1478.3 668.2C1479.9 669.7 1483.4 668.0 1483.7 670.2C1487.7 706.4 1485.0 727.8 1489.1 764.3C1489.3 766.7 1494.2 769.6 1494.4 767.4C1498.5 727.1 1496.0 693.0 1499.8 657.8C1500.3 653.8 1502.9 668.8 1505.2 669.2C1507.2 669.5 1508.0 660.7 1510.6 659.5C1512.3 658.7 1515.7 661.3 1516.0 664.0C1520.0 704.4 1519.1 766.1 1521.4 767.4C1523.4 768.6 1522.7 707.0 1526.7 670.2C1527.0 668.2 1531.9 668.2 1532.1 670.2C1536.2 702.5 1535.4 756.8 1537.5 756.0C1539.7 755.2 1539.4 701.8 1542.9 666.1C1543.7 657.6 1546.1 645.6 1548.3 645.4C1550.4 645.2 1550.3 659.6 1553.7 665.1C1554.6 666.6 1558.8 660.8 1559.0 663.0C1563.1 700.5 1562.3 765.4 1564.4 764.3C1566.6 763.1 1565.8 695.2 1569.8 657.4C1570.1 654.7 1574.4 665.1 1575.2 663.0C1578.7 654.1 1577.9 633.3 1580.6 629.9C1582.2 627.9 1585.2 641.5 1586.0 649.5C1589.5 689.0 1587.8 709.3 1591.3 748.8C1592.1 757.6 1596.0 776.5 1596.7 770.5C1600.3 740.5 1598.5 703.3 1602.1 658.9C1602.8 649.6 1605.2 636.8 1607.5 636.1C1609.5 635.5 1610.8 647.9 1612.9 655.8C1615.1 664.0 1616.0 676.2 1618.3 676.4C1620.4 676.6 1620.6 660.4 1623.6 656.8C1624.9 655.3 1628.7 660.2 1629.0 663.6C1633.0 705.7 1632.2 769.3 1634.4 770.5C1636.5 771.6 1636.6 709.6 1639.8 669.2C1640.9 654.6 1642.5 636.9 1645.2 633.0C1646.8 630.7 1647.8 645.6 1650.6 653.7C1652.1 658.4 1653.8 665.1 1655.9 665.1C1658.1 665.0 1659.4 652.7 1661.3 653.3C1663.7 654.0 1666.1 661.9 1666.7 668.2C1670.4 705.0 1668.0 726.4 1672.1 761.2C1672.3 763.2 1677.3 762.3 1677.5 760.1C1681.6 706.0 1679.5 650.9 1682.9 620.6C1683.8 611.6 1685.2 655.4 1688.2 662.0C1689.6 664.9 1690.6 647.9 1693.6 644.4C1694.9 642.9 1697.2 647.2 1699.0 649.5C1701.5 653.0 1704.0 654.6 1704.4 658.9C1708.3 699.9 1707.5 761.1 1709.8 762.8C1711.8 764.4 1711.3 704.9 1715.2 667.1C1715.6 662.5 1720.1 652.9 1720.5 656.8C1724.4 694.5 1723.8 771.1 1725.9 771.1C1728.1 771.1 1727.2 698.3 1731.3 656.8C1731.5 654.3 1734.3 659.9 1736.7 661.1C1738.6 662.1 1740.3 661.3 1742.1 662.4C1744.6 664.0 1746.6 669.8 1747.5 667.8C1750.9 659.3 1750.3 638.6 1752.8 636.0C1754.6 634.3 1754.8 650.4 1758.2 657.0C1759.1 658.6 1762.0 655.5 1763.6 656.5C1766.3 658.2 1767.3 664.8 1769.0 663.8C1771.6 662.3 1772.5 649.5 1774.4 650.3C1776.8 651.3 1777.1 666.4 1779.8 668.4C1781.4 669.6 1782.8 658.8 1785.1 658.4C1787.1 658.0 1787.8 664.8 1790.5 666.5C1792.1 667.5 1795.8 662.8 1795.9 665.0C1800.1 740.8 1798.4 836.6 1801.3 861.5C1802.8 874.4 1804.3 800.4 1806.7 759.7C1808.6 726.7 1808.9 710.1 1812.1 677.3C1813.2 665.3 1814.1 654.8 1817.4 647.6C1818.4 645.6 1820.2 652.3 1822.8 654.3C1824.5 655.6 1827.3 657.3 1828.2 655.7C1831.6 650.0 1830.3 641.1 1833.6 636.2C1834.6 634.7 1837.2 640.1 1839.0 639.5C1841.5 638.7 1841.7 634.3 1844.4 632.7C1846.0 631.7 1848.6 631.7 1849.7 633.2C1852.9 637.3 1852.0 642.6 1855.1 646.8C1856.3 648.4 1858.8 646.4 1860.5 647.6C1863.1 649.4 1864.5 655.7 1865.9 654.3C1868.8 651.4 1869.3 643.9 1871.3 636.8C1873.6 628.2 1875.6 624.0 1876.7 615.1C1879.9 587.7 1879.9 545.9 1882.0 546.2C1884.2 546.5 1886.0 588.3 1887.4 616.5C1890.3 674.3 1890.3 750.5 1892.8 761.0C1894.6 768.3 1894.7 700.8 1898.2 661.0C1899.0 651.6 1901.1 647.1 1903.6 638.0C1905.4 630.9 1908.4 615.2 1909.0 620.5C1912.7 654.1 1912.1 733.1 1914.3 735.4C1916.4 737.5 1916.3 656.5 1919.7 631.4C1920.6 625.1 1922.1 652.7 1925.1 657.0C1926.4 658.9 1928.2 650.8 1930.5 646.8C1932.5 643.2 1934.8 635.8 1935.9 638.1C1939.2 645.3 1939.7 674.2 1941.3 670.5C1944.0 663.9 1942.7 632.5 1946.6 612.4C1947.0 610.3 1951.3 613.0 1952.0 615.1C1955.6 625.4 1954.9 641.6 1957.4 643.5C1959.2 644.9 1961.2 620.8 1962.8 623.2C1965.5 627.3 1966.5 662.9 1968.2 659.7C1970.8 654.8 1971.2 625.7 1973.6 603.0C1975.5 584.4 1977.3 552.0 1978.9 556.5C1981.6 563.9 1981.1 617.7 1984.3 632.7C1985.4 637.9 1987.2 608.9 1989.7 607.0C1991.5 605.7 1993.6 617.4 1995.1 624.6C1998.0 639.0 1996.7 649.0 2000.5 661.0C2001.0 662.8 2005.6 657.1 2005.9 659.2C2009.9 699.8 2009.2 769.7 2011.2 767.8C2013.5 765.7 2012.8 686.6 2016.6 649.0C2017.1 644.4 2019.8 657.0 2022.0 662.4" fill="none" stroke="#33c4f7" stroke-width="2.9" stroke-linejoin="round"/>
  <g font-family="Liberation Sans,Noto Sans CJK SC,sans-serif" font-size="16.5" fill="#777"><text x="261.7" y="885.5" text-anchor="end">2020-12-23</text><text x="369.3" y="885.5" text-anchor="end">2021-01-12</text><text x="477.0" y="885.5" text-anchor="end">2021-02-01</text><text x="584.6" y="885.5" text-anchor="end">2021-02-21</text><text x="692.3" y="885.5" text-anchor="end">2021-03-13</text><text x="800.0" y="885.5" text-anchor="end">2021-04-02</text><text x="907.6" y="885.5" text-anchor="end">2021-04-22</text><text x="1015.3" y="885.5" text-anchor="end">2021-05-12</text><text x="1122.9" y="885.5" text-anchor="end">2021-06-01</text><text x="1230.6" y="885.5" text-anchor="end">2021-06-21</text><text x="1338.3" y="885.5" text-anchor="end">2021-07-11</text><text x="1445.9" y="885.5" text-anchor="end">2021-07-31</text><text x="1553.6" y="885.5" text-anchor="end">2021-08-20</text><text x="1661.2" y="885.5" text-anchor="end">2021-09-09</text><text x="1768.9" y="885.5" text-anchor="end">2021-09-29</text><text x="1876.6" y="885.5" text-anchor="end">2021-10-19</text><text x="2022" y="885.5" text-anchor="end">2021-11-15</text></g>
  <text x="2010.5" y="844" text-anchor="end" font-family="Noto Sans CJK SC,sans-serif" font-size="18.3" fill="#c4c4c4">@百度指数</text>
  <!-- slider -->
  <rect x="157.75" y="911.75" width="1861" height="43.5" fill="#f3f7fd" stroke="#dcdcdc" stroke-width="1.5"/>
  <path d="M158.5 955L158.5 937.2L160.7 937.5L162.9 937.1L165.1 935.3L167.3 938.2L169.5 936.8L171.7 938.2L173.9 935.2L176.1 932.6L178.3 936.3L180.5 937.1L182.7 930.9L184.9 936.6L187.1 935.7L189.3 936.4L191.5 935.0L193.7 935.4L195.9 932.0L198.1 931.8L200.3 934.0L202.5 934.7L204.7 932.9L206.9 933.8L209.1 930.8L211.3 932.1L213.5 929.9L215.7 928.3L217.9 926.8L220.1 925.5L222.3 929.0L224.5 929.4L226.7 930.7L228.9 927.8L231.1 923.5L233.3 926.4L235.5 923.8L237.7 926.4L239.9 927.6L242.1 925.9L244.3 927.4L246.5 925.1L248.7 922.6L250.9 920.8L253.1 919.2L255.3 922.2L257.5 925.7L259.7 922.2L261.9 921.2L264.1 922.5L266.3 920.4L268.5 920.2L270.7 924.3L272.9 920.0L275.1 924.4L277.3 920.8L279.5 923.4L281.7 919.7L283.9 924.4L286.1 923.6L288.3 922.1L290.5 919.6L292.7 923.0L294.9 924.2L297.1 918.4L299.3 918.5L301.5 924.0L303.7 922.8L305.9 922.8L308.1 923.3L310.3 923.4L312.5 924.4L314.7 924.2L316.9 918.9L319.1 922.1L321.3 924.4L323.5 918.8L325.7 924.4L327.9 924.2L330.1 920.8L332.3 918.9L334.5 920.8L336.7 924.1L338.9 922.4L341.1 924.1L343.3 919.7L345.5 918.9L347.7 920.4L349.9 922.3L352.1 922.3L354.3 919.5L356.5 923.4L358.7 923.3L360.9 922.6L363.1 923.0L365.3 921.9L367.5 923.9L369.7 922.3L371.9 917.8L374.1 916.5L376.3 922.8L378.5 920.3L380.7 919.2L382.9 919.6L385.1 920.9L387.3 919.3L389.5 917.5L391.7 920.0L393.9 918.0L396.1 921.6L398.3 923.4L400.5 919.0L402.7 922.4L404.9 920.6L407.1 918.6L409.3 921.4L411.5 918.8L413.7 918.9L415.9 921.1L418.1 918.8L420.3 920.2L422.5 917.7L423.5 921L423.5 955Z" fill="#eef1f6"/>
  <rect x="423.5" y="948" width="1427" height="6.5" fill="#eef1f6"/>
  <rect x="1853.5" y="912.5" width="162" height="42" fill="#c8dcfa"/>
  <rect x="1853.5" y="948" width="162" height="6.5" fill="#c2d5f4"/>
  <rect x="194.4" y="948" width="1.5" height="9" fill="#d6d6d6"/><rect x="251.6" y="948" width="1.5" height="9" fill="#d6d6d6"/><rect x="308.8" y="948" width="1.5" height="9" fill="#d6d6d6"/><rect x="366.0" y="948" width="1.5" height="9" fill="#d6d6d6"/><rect x="423.2" y="948" width="1.5" height="9" fill="#d6d6d6"/><rect x="480.4" y="948" width="1.5" height="9" fill="#d6d6d6"/><rect x="537.6" y="948" width="1.5" height="9" fill="#d6d6d6"/><rect x="594.9" y="948" width="1.5" height="9" fill="#d6d6d6"/><rect x="652.1" y="948" width="1.5" height="9" fill="#d6d6d6"/><rect x="709.3" y="948" width="1.5" height="9" fill="#d6d6d6"/><rect x="766.5" y="948" width="1.5" height="9" fill="#d6d6d6"/><rect x="823.7" y="948" width="1.5" height="9" fill="#d6d6d6"/><rect x="880.9" y="948" width="1.5" height="9" fill="#d6d6d6"/><rect x="938.1" y="948" width="1.5" height="9" fill="#d6d6d6"/><rect x="995.3" y="948" width="1.5" height="9" fill="#d6d6d6"/><rect x="1052.5" y="948" width="1.5" height="9" fill="#d6d6d6"/><rect x="1109.7" y="948" width="1.5" height="9" fill="#d6d6d6"/><rect x="1166.9" y="948" width="1.5" height="9" fill="#d6d6d6"/><rect x="1224.1" y="948" width="1.5" height="9" fill="#d6d6d6"/><rect x="1281.3" y="948" width="1.5" height="9" fill="#d6d6d6"/><rect x="1338.5" y="948" width="1.5" height="9" fill="#d6d6d6"/><rect x="1395.7" y="948" width="1.5" height="9" fill="#d6d6d6"/><rect x="1452.9" y="948" width="1.5" height="9" fill="#d6d6d6"/><rect x="1510.1" y="948" width="1.5" height="9" fill="#d6d6d6"/><rect x="1567.3" y="948" width="1.5" height="9" fill="#d6d6d6"/><rect x="1624.5" y="948" width="1.5" height="9" fill="#d6d6d6"/><rect x="1681.7" y="948" width="1.5" height="9" fill="#d6d6d6"/><rect x="1738.9" y="948" width="1.5" height="9" fill="#d6d6d6"/><rect x="1796.1" y="948" width="1.5" height="9" fill="#d6d6d6"/><rect x="1853.3" y="948" width="1.5" height="9" fill="#d6d6d6"/><rect x="1910.5" y="948" width="1.5" height="9" fill="#d6d6d6"/><rect x="1967.7" y="948" width="1.5" height="9" fill="#d6d6d6"/>
  <rect x="1850" y="911" width="7" height="45" rx="3.5" fill="#2173f2"/>
  <rect x="2012.5" y="911" width="7" height="45" rx="3.5" fill="#2173f2"/>
  <g font-family="Liberation Sans,Noto Sans CJK SC,sans-serif" font-size="19" fill="#b5b5b5">
    <text x="153" y="978" text-anchor="middle">2011</text>
    <text x="310.7" y="982.5" text-anchor="middle">2012</text><text x="482.1" y="982.5" text-anchor="middle">2013</text><text x="653.5" y="982.5" text-anchor="middle">2014</text><text x="824.9" y="982.5" text-anchor="middle">2015</text><text x="996.3" y="982.5" text-anchor="middle">2016</text><text x="1167.7" y="982.5" text-anchor="middle">2017</text><text x="1339.1" y="982.5" text-anchor="middle">2018</text><text x="1510.5" y="982.5" text-anchor="middle">2019</text><text x="1681.9" y="982.5" text-anchor="middle">2020</text><text x="1853.3" y="982.5" text-anchor="middle">2021</text>
  </g>
</svg>

<!-- overview -->
<div class="t cn" style="left:153px;top:1021px;font-size:21px;color:#333">搜索指数概览</div>
<div class="abs" style="left:285px;top:1021px;width:24px;height:24px;border-radius:50%;background:#d9d9d9;color:#fff;font:normal 20px/26px 'Liberation Sans',sans-serif;text-align:center">?</div>
<div class="abs" style="left:153px;top:1068px;width:1870px;height:2px;background:#ececec"></div>
<div class="abs" style="left:153px;top:1134px;width:1870px;height:2px;background:#ececec"></div>
<div class="abs" style="left:153px;top:1199px;width:1870px;height:2px;background:#ececec"></div>
<div class="t cn" style="left:177px;top:1093px;font-size:18px;color:#333">关键词</div>
<div class="t cn" style="right:1534px;top:1093px;font-size:18px;color:#333">整体日均值</div>
<div class="t cn" style="right:1324px;top:1093px;font-size:18px;color:#333">移动日均值</div>
<div class="t cn" style="right:950px;top:1093px;font-size:18px;color:#333">整体同比</div>
<div class="t cn" style="right:740px;top:1093px;font-size:18px;color:#333">整体环比</div>
<div class="t cn" style="right:460px;top:1093px;font-size:18px;color:#333">移动同比</div>
<div class="t cn" style="right:249px;top:1093px;font-size:18px;color:#333">移动环比</div>
<div class="abs" style="left:177px;top:1164px;width:18px;height:18px;background:#33c3f5"></div>
<div class="t" style="left:203px;top:1163.5px;font-size:21.5px;color:#333;letter-spacing:1.2px;-webkit-text-stroke:.3px #333">onet</div>
<div class="t" style="right:1534px;top:1158.5px;font-size:20.5px;color:#333;letter-spacing:-.6px">134</div>
<div class="t" style="right:1324px;top:1158.5px;font-size:20.5px;color:#333;letter-spacing:-.6px">67</div>
<div class="t cn" style="left:1218px;top:1158.5px;font-size:19.5px;color:#333;font-family:'Liberation Sans',sans-serif">1%</div><svg class="abs" style="left:1251px;top:1160px" width="13" height="18" viewBox="0 0 13 18"><path d="M6.5 2L13 11.6H8.9V17.2H4.1V11.6H0Z" fill="#f6714f"/></svg>
<div class="t cn" style="left:1428px;top:1158.5px;font-size:19.5px;color:#333;font-family:'Liberation Sans',sans-serif">1%</div><svg class="abs" style="left:1461.5px;top:1160px" width="13" height="18" viewBox="0 0 13 18"><path d="M6.5 2L13 11.6H8.9V17.2H4.1V11.6H0Z" fill="#f6714f"/></svg>
<div class="t cn" style="left:1708px;top:1158.5px;font-size:19.5px;color:#333;font-family:'Liberation Sans',sans-serif">4%</div><svg class="abs" style="left:1742px;top:1160px" width="13" height="18" viewBox="0 0 13 18"><path d="M6.5 2L13 11.6H8.9V17.2H4.1V11.6H0Z" fill="#f6714f"/></svg>
<div class="t cn" style="left:1918px;top:1158.5px;font-size:19.5px;color:#333;font-family:'Liberation Sans',sans-serif">4%</div><svg class="abs" style="left:1952.5px;top:1160px" width="13" height="18" viewBox="0 0 13 18"><path d="M6.5 2L13 11.6H8.9V17.2H4.1V11.6H0Z" fill="#f6714f"/></svg>

<svg class="abs" style="left:153px;top:1219px" width="20" height="20" viewBox="0 0 20 20"><circle cx="10" cy="10" r="8.6" fill="none" stroke="#666" stroke-width="1.5"/><rect x="9.2" y="8.4" width="1.7" height="6.6" fill="#666"/><circle cx="10" cy="5.9" r="1.1" fill="#666"/></svg>
<div class="t cn" style="left:177px;top:1218px;font-size:18.2px;color:#666">数据更新时间：每天12~16时，受数据波动影响，可能会有延迟。</div>

<!-- right toolbar -->
<div class="abs" style="left:2056px;top:881px;width:59px;height:178px;background:#fafafa"></div>
<svg class="abs" style="left:2060px;top:890px" width="50" height="160" viewBox="2060 890 50 160" fill="none" stroke="#b4b4b4" stroke-width="2.5" stroke-linejoin="round" stroke-linecap="round">
  <circle cx="2076.3" cy="912.6" r="4.4"/><circle cx="2092.4" cy="902.2" r="4.4"/><circle cx="2093.6" cy="919.8" r="4.4"/>
  <path d="M2080.2 910.2L2088.5 904.8M2080.3 914.6L2089.6 917.9"/>
  <path d="M2085 957.6l3.9 8.1l8.9 1.2l-6.5 6.2l1.6 8.9l-7.9-4.3l-7.9 4.3l1.6-8.9l-6.5-6.2l8.9-1.2z"/>
  <circle cx="2084.5" cy="1029.6" r="13.2"/>
  <path d="M2080.4 1025.6c0-2.6 1.9-4.3 4.3-4.3s4.2 1.6 4.2 3.8c0 3.1-3.9 3.5-3.9 6.8v0.6" stroke-width="2.4"/>
  <circle cx="2084.8" cy="1036.4" r="1.5" fill="#b4b4b4" stroke="none"/>
</svg>
<!-- customer service -->
<div class="abs" style="left:2144px;top:1085px;width:69px;height:69px;border-radius:50%;background:#fff;border:1.5px solid #a9c9fb;box-shadow:0 2px 8px rgba(0,0,0,.05)"></div>
<svg class="abs" style="left:2140px;top:1080px" width="75" height="80" viewBox="0 0 75 80">
  <path d="M22.6 40A15.3 15.3 0 0 1 53.2 40" fill="none" stroke="#0a6cff" stroke-width="1.9"/>
  <path d="M24.2 35.6V46.8A5.6 5.6 0 0 1 24.2 35.6Z" fill="#0a6cff"/>
  <path d="M51.8 35.6V46.8A5.6 5.6 0 0 0 51.8 35.6Z" fill="#0a6cff"/>
  <circle cx="37.8" cy="40.4" r="12.1" fill="#0a6cff"/>
  <path d="M30 47.5C31 50 30.5 52 28 53.8C31.5 54 34 53 36.5 51.6Z" fill="#0a6cff"/>
</svg>
<div class="t" style="left:2037px;top:1232px;font-size:18.5px;color:#a0a0a0;font-family:'Liberation Sans','Noto Sans CJK SC',sans-serif">CSDN @ONET一站</div>

<!-- dropdown -->
<div class="abs" style="left:1719px;top:357px;width:145px;height:148px;background:#fff;border-radius:4px;border:1px solid #ebebeb;box-shadow:0 2px 8px rgba(0,0,0,.12)"></div>
<div class="t" style="left:1750px;top:383px;font-size:21px;color:#2173f2">PC+移动</div>
<div class="t" style="left:1779px;top:420.5px;font-size:22px;color:#666;letter-spacing:-1px">PC</div>
<div class="t cn" style="left:1771px;top:459px;font-size:21px;color:#666">移动</div>
<div id="edge"></div>
</body>
</html>
